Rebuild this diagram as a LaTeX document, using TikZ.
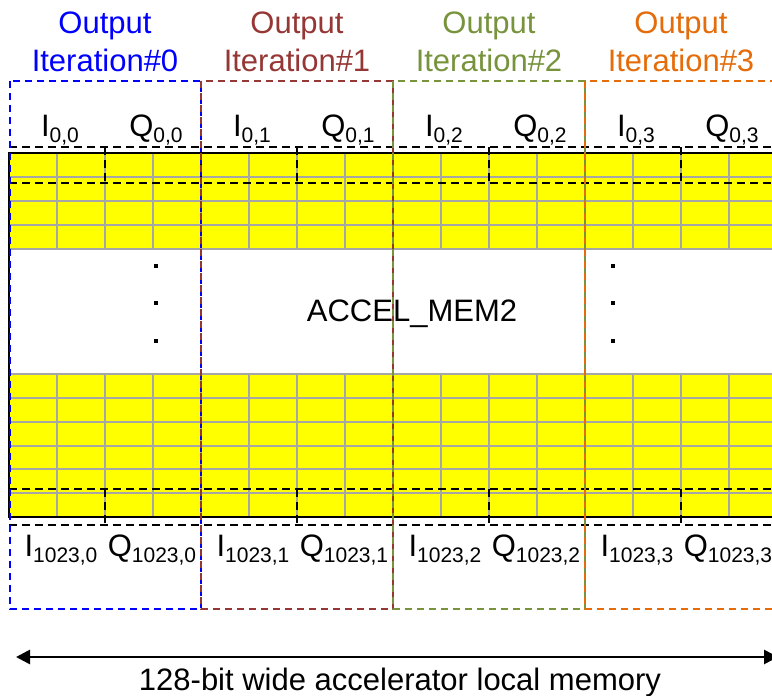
\documentclass[tikz,border=0pt]{standalone}
\usepackage{fontspec}
\setmainfont{Liberation Sans}
\usetikzlibrary{arrows.meta}
\definecolor{itA}{HTML}{0000FF}
\definecolor{itB}{HTML}{953735}
\definecolor{itC}{HTML}{77933C}
\definecolor{itD}{HTML}{E46C0A}
\definecolor{gridgray}{HTML}{A6A6A6}
\definecolor{memyellow}{HTML}{FFFF00}
\newcommand{\lbl}[2]{#1\raisebox{-6pt}{\fontsize{21}{21}\selectfont #2}}
\begin{document}
\begin{tikzpicture}[x=1pt,y=-1pt,
  txt/.style={font=\fontsize{31}{37}\selectfont, inner sep=0pt, anchor=base},
  gridl/.style={draw=gridgray, line width=2pt},
  memedge/.style={draw=black, line width=2.5pt},
  fieldbox/.style={draw=black, line width=1.3pt, dash pattern=on 8pt off 5pt},
  iterbox/.style={line width=1.3pt, dash pattern=on 7pt off 5pt},
  dotmark/.style={fill=black}]
\useasboundingbox (0,0) rectangle (772,696);
\fill[white] (0,0) rectangle (772,696);
\begin{scope}
\clip (0,0) rectangle (772,696);
% memory blocks
\fill[memyellow] (9,153) rectangle (777,249);
\fill[memyellow] (9,374) rectangle (777,517);
\foreach \y in {177,201,225,249} \draw[gridl] (9,\y) -- (777,\y);
\foreach \x in {57,105,...,777} \draw[gridl] (\x,153) -- (\x,249);
\foreach \y in {374,397.8,421.7,445.5,469.3,493.2} \draw[gridl] (9,\y) -- (777,\y);
\foreach \x in {57,105,...,777} \draw[gridl] (\x,374) -- (\x,517);
\draw[memedge] (777,153) -- (9,153) -- (9,517) -- (777,517);
% I/Q field outlines
\draw[fieldbox] (9,147) -- (777,147);
\draw[fieldbox] (9,183) -- (777,183);
\draw[fieldbox] (9,489) -- (777,489);
\draw[fieldbox] (9,525) -- (777,525);
\foreach \x in {105,201,...,681} {
  \draw[fieldbox] (\x,147) -- (\x,183);
  \draw[fieldbox] (\x,489) -- (\x,525);
}
% iteration boxes
\foreach \k/\c in {0/itA,1/itB,2/itC,3/itD} {
  \pgfmathsetmacro{\xl}{\k==0 ? 10 : 9+192*\k}
  \pgfmathsetmacro{\xr}{201+192*\k}
  \pgfmathsetmacro{\xm}{105+192*\k}
  \draw[iterbox, draw=\c] (\xl,81) rectangle (\xr,609);
  \node[txt, text=\c] (out\k) at (\xm,33) {Output};
  \node[txt, text=\c] (iter\k) at (\xm,71) {Iteration\#\k};
  \pgfmathsetmacro{\xi}{60+192*\k}
  \pgfmathsetmacro{\xq}{156+192*\k}
  \pgfmathsetmacro{\xib}{61+192*\k}
  \pgfmathsetmacro{\xqb}{152+192*\k}
  \node[txt] (itop\k) at (\xi,136) {\lbl{I}{0,\k}};
  \node[txt] (qtop\k) at (\xq,136) {\lbl{Q}{0,\k}};
  \node[txt] (ibot\k) at (\xib,556) {\lbl{I}{1023,\k}};
  \node[txt] (qbot\k) at (\xqb,556) {\lbl{Q}{1023,\k}};
}
% dots
\foreach \x in {156,613} \foreach \y in {266,303,341}
  \fill[dotmark] (\x-2,\y-2) rectangle (\x+2,\y+2);
\node[txt, text=black] (mem) at (412,321) {ACCEL\_MEM2};
% width arrow
\coordinate (aL) at (16,657);
\coordinate (aR) at (778,657);
\draw[line width=2.7pt, {Triangle[length=14pt,width=14pt]}-{Triangle[length=14pt,width=14pt]}] (aL) -- (aR);
\node[txt] (width) at (400,690) {128-bit wide accelerator local memory};
\end{scope}
\end{tikzpicture}
\end{document}
